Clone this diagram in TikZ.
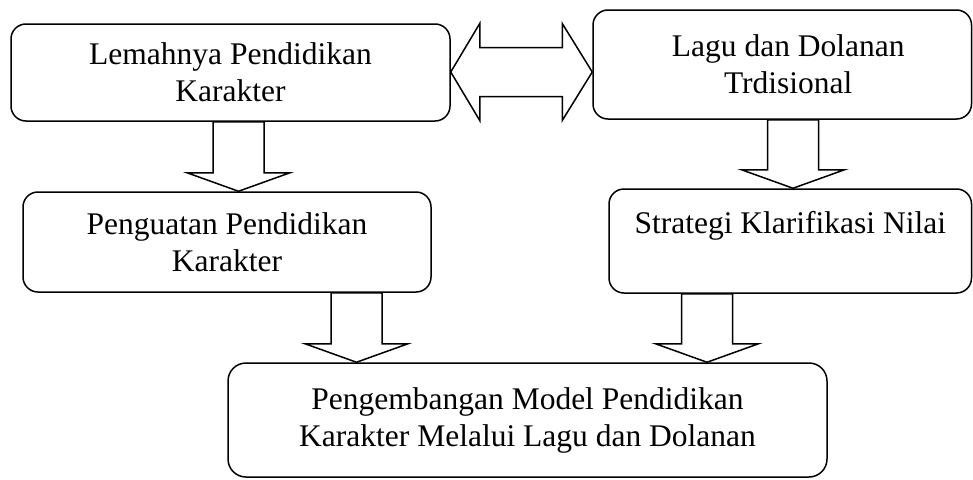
\documentclass[tikz,border=0pt]{standalone}
\usepackage{fontspec}
\setmainfont{Liberation Serif}
\usetikzlibrary{calc}
\tikzset{
  box/.style={draw, line width=1.5pt, rounded corners=15pt, inner sep=0pt,
    align=center, font=\fontsize{31.5}{37}\selectfont},
  blk/.style={draw, line width=1.5pt, fill=white, line join=miter}
}
\newcommand\blockdown[3]{%
  \draw[blk] let \p1=(#2.south), \p2=(#3.north) in
    (#1pt-25.5pt,\y1) -- (#1pt-25.5pt,\y2+18.5pt) -- (#1pt-51.5pt,\y2+18.5pt)
    -- (#1pt,\y2) -- (#1pt+51.5pt,\y2+18.5pt) -- (#1pt+25.5pt,\y2+18.5pt)
    -- (#1pt+25.5pt,\y1) -- cycle;
}
\begin{document}
\begin{tikzpicture}[x=1pt,y=-1pt]
\useasboundingbox (0,0) rectangle (973,479);
\node[box, minimum width=439pt, minimum height=97pt] (l) at (230.5,72.5)
  {Lemahnya Pendidikan\\Karakter};
\node[box, minimum width=378.5pt, minimum height=109pt] (g) at (782.25,64.5)
  {\hspace*{12pt}Lagu dan Dolanan\\\hspace*{12pt}Trdisional};
\node[box, minimum width=408pt, minimum height=100pt] (s) at (227,242)
  {Penguatan Pendidikan\\Karakter};
\node[box, minimum width=362.5pt, minimum height=104pt] (k) at (790.25,241)
  {Strategi Klarifikasi Nilai\\\mbox{}};
\node[box, rounded corners=18pt, minimum width=599pt, minimum height=114pt] (p) at (527.5,420)
  {Pengembangan Model Pendidikan\\Karakter Melalui Lagu dan Dolanan};
\draw[blk] let \p1=(l.east), \p2=(g.west) in
  (\x1,-72pt) -- (\x1+29pt,-23.5pt) -- (\x1+29pt,-47.5pt) -- (\x2-30pt,-47.5pt)
  -- (\x2-30pt,-23.5pt) -- (\x2,-72pt) -- (\x2-30pt,-120.5pt) -- (\x2-30pt,-96.5pt)
  -- (\x1+29pt,-96.5pt) -- (\x1+29pt,-120.5pt) -- cycle;
\blockdown{238.5}{l}{s}
\blockdown{793}{g}{k}
\blockdown{356.5}{s}{p}
\blockdown{707}{k}{p}
\end{tikzpicture}
\end{document}
